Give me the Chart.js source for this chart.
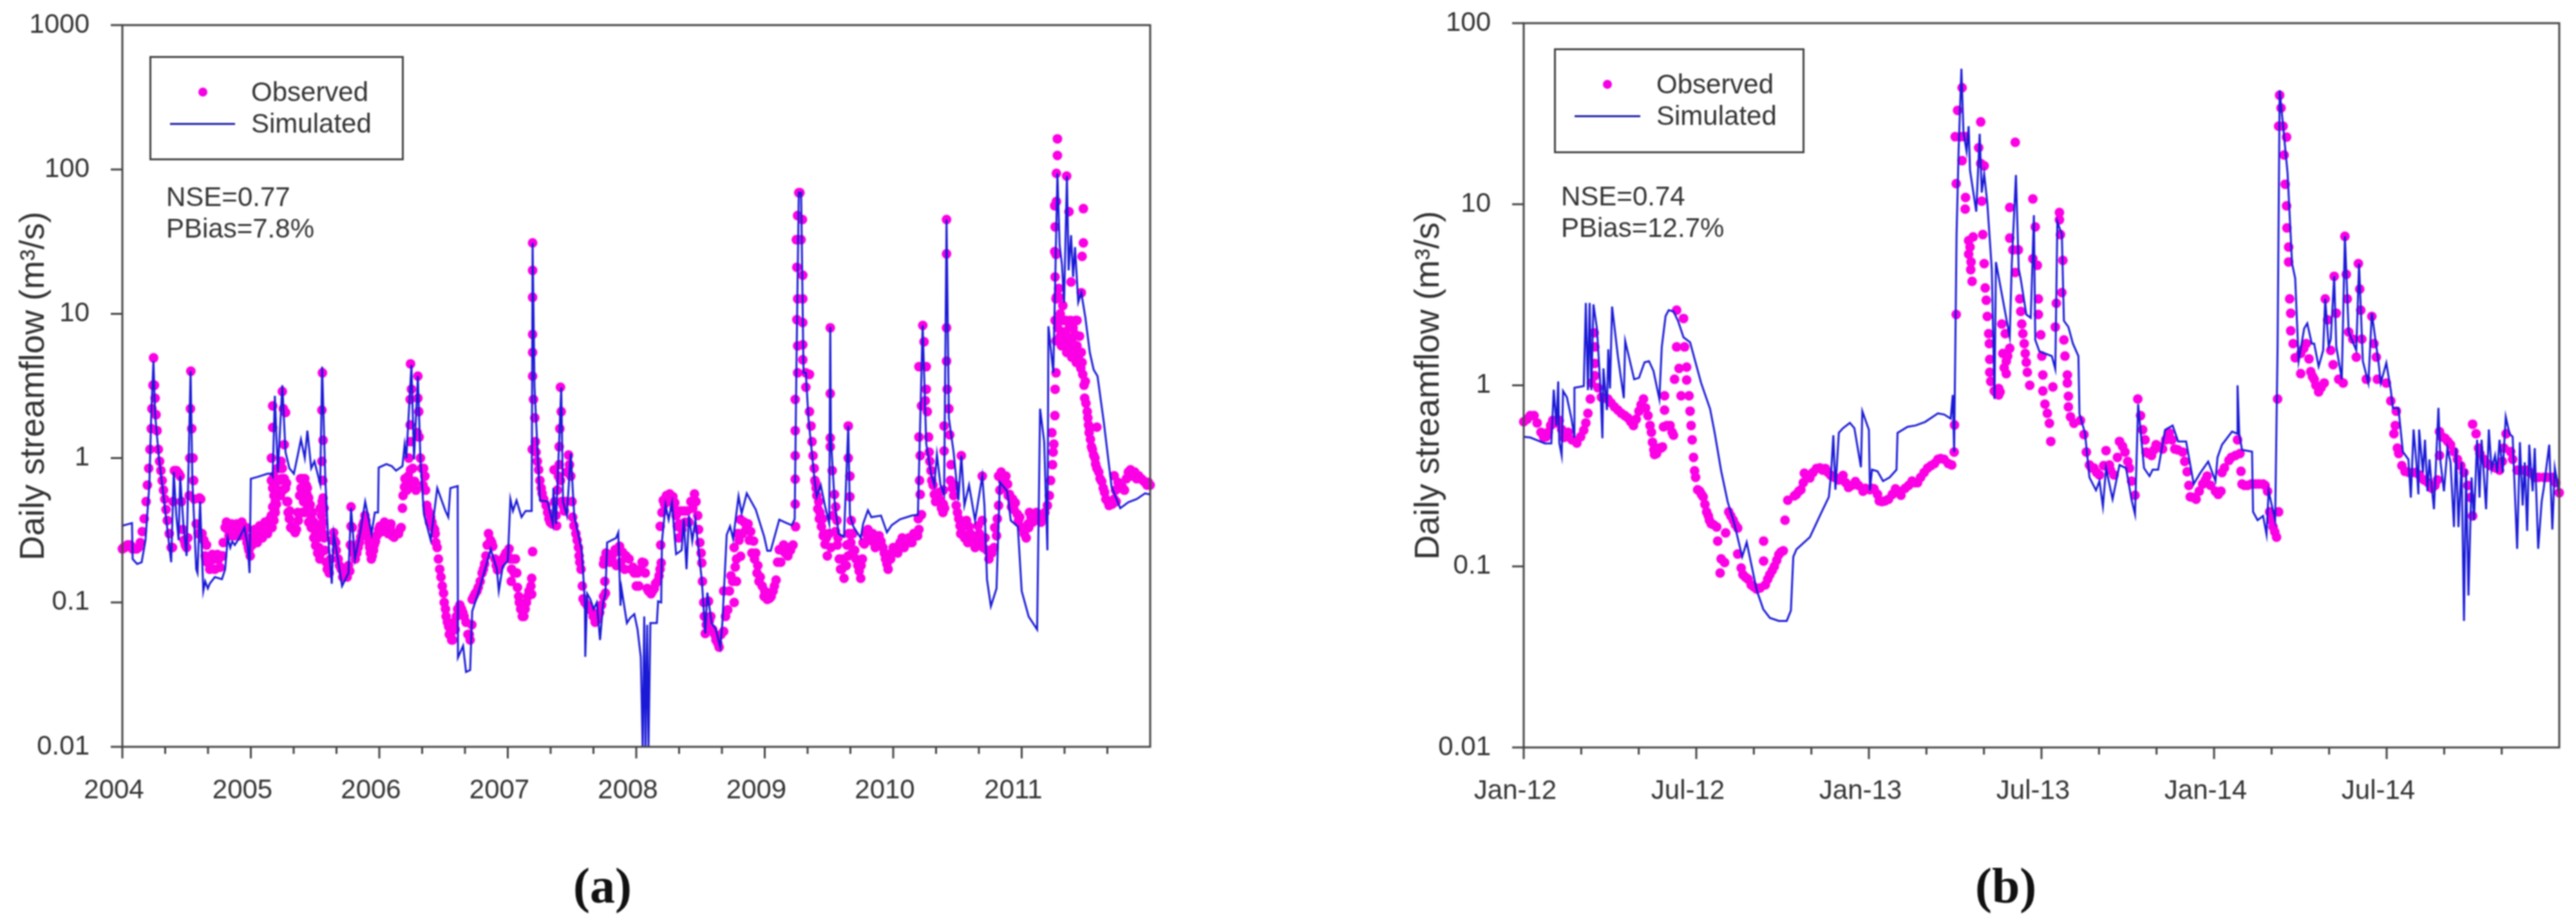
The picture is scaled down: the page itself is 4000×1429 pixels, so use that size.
<!DOCTYPE html>
<html>
<head>
<meta charset="utf-8">
<title>Daily streamflow</title>
<script src="https://cdn.jsdelivr.net/npm/chart.js@4/dist/chart.umd.min.js"></script>
<style>
  html, body { margin: 0; padding: 0; background: #fff; }
  body { position: relative; width: 4000px; height: 1429px; overflow: hidden; font-family: "Liberation Sans", Arial, sans-serif; color: #333; filter: blur(0.8px); }
  canvas { position: absolute; top: 0; }
  .box { position: absolute; border: 3px solid #444; box-sizing: border-box; }
  .txt { position: absolute; font-size: 42px; line-height: 50px; white-space: nowrap; }
  .dot { position: absolute; width: 14px; height: 14px; border-radius: 50%; background: #f400e4; }
  .dash { position: absolute; height: 3px; background: #1c1ca8; }
  .tag { position: absolute; font-family: "Liberation Serif", serif; font-size: 78px; line-height: 90px; color: #111; }
  .tag b { font-weight: bold; }
</style>
</head>
<body>
<canvas id="chartA" width="2000" height="1429" style="left:0"></canvas>
<canvas id="chartB" width="2000" height="1429" style="left:2000px"></canvas>
<script>
// [years since start of axis, streamflow m3/s]
const simA2004 = [[0,.34],[.05,.35],[.075,.355],[.08,.2],[.115,.185],[.15,.19],[.18,.27],[.21,.65],[.225,2],[.242,4.7],[.255,2],[.285,1],[.32,.55],[.38,.19],[.40,.8],[.42,.4],[.438,.27],[.45,.75],[.475,.35],[.50,.21],[.531,4],[.545,.7],[.575,.17],[.585,.16],[.605,.5],[.63,.12],[.645,.14],[.665,.125],[.68,.135],[.72,.15],[.775,.145],[.80,.17],[.82,.28],[.84,.24],[.855,.265],[.875,.25],[.91,.28],[.95,.33],[.975,.25],[.99,.16]];
const simA2005 = [[1,.72],[1.05,.74],[1.09,.76],[1.13,.78],[1.16,.78],[1.17,.75],[1.187,2.7],[1.21,.8],[1.245,3.2],[1.27,1.1],[1.30,.85],[1.335,.78],[1.37,1.1],[1.39,1.35],[1.42,1],[1.44,1.55],[1.47,.85],[1.495,.95],[1.54,.66],[1.555,4.3],[1.58,.7],[1.6,.3],[1.63,.135],[1.645,.3],[1.66,.25],[1.71,.13],[1.76,.16],[1.78,.45],[1.81,.2],[1.85,.3],[1.89,.5],[1.94,.3],[1.965,.42],[1.99,.42]];
const simA2006 = [[1.995,.86],[2.055,.91],[2.097,.88],[2.13,.82],[2.18,.88],[2.197,1.24],[2.21,1],[2.25,4.4],[2.27,.98],[2.30,3.7],[2.32,.98],[2.347,.41],[2.40,.27],[2.451,.62],[2.515,.43],[2.537,.39],[2.553,.62],[2.61,.64],[2.612,.0415],[2.652,.05],[2.675,.033],[2.707,.034],[2.723,.087],[2.77,.116],[2.835,.185],[2.867,.234],[2.915,.17],[2.93,.12],[2.96,.177]];
const simA2007 = [[3,.194],[3.02,.52],[3.04,.43],[3.068,.51],[3.107,.39],[3.138,.43],[3.186,.43],[3.193,31],[3.208,3.1],[3.25,.51],[3.31,.5],[3.35,.35],[3.355,.62],[3.375,.35],[3.416,3.08],[3.43,.5],[3.46,.4],[3.49,1.08],[3.517,.4],[3.576,.23],[3.6,.1],[3.603,.042],[3.618,.115],[3.643,.105],[3.668,.09],[3.693,.1],[3.718,.055],[3.743,.1],[3.76,.115],[3.773,.26],[3.843,.28],[3.86,.305],[3.877,.095],[3.885,.125],[3.927,.072],[3.952,.078],[3.985,.083]];
const simA2008 = [[4.01,.065],[4.035,.042],[4.05,.0095],[4.062,.08],[4.072,.0095],[4.085,.07],[4.095,.0095],[4.11,.072],[4.16,.072],[4.17,.102],[4.194,.1],[4.2,.265],[4.228,.475],[4.252,.375],[4.278,.49],[4.31,.216],[4.353,.23],[4.37,.375],[4.391,.17],[4.41,.4],[4.436,.266],[4.46,.375],[4.51,.143],[4.537,.061],[4.553,.117],[4.587,.072],[4.62,.065],[4.654,.049],[4.67,.072],[4.704,.295],[4.73,.337],[4.754,.275],[4.796,.545],[4.82,.414],[4.86,.57],[4.93,.44],[4.996,.285]];
const simA2009 = [[5.02,.228],[5.046,.228],[5.113,.375],[5.155,.36],[5.21,.343],[5.233,.378],[5.246,3.9],[5.265,69],[5.283,69],[5.302,3.9],[5.32,3.9],[5.34,1.9],[5.385,.75],[5.404,.54],[5.436,.65],[5.469,.467],[5.502,.352],[5.51,8.1],[5.515,1.38],[5.543,.51],[5.575,.3],[5.617,.285],[5.65,1.67],[5.663,.405],[5.69,.335],[5.747,.28],[5.766,.352],[5.803,.435],[5.83,.39],[5.905,.4],[5.951,.306],[5.988,.343]];
const simA2010 = [[6.053,.377],[6.146,.4],[6.192,.405],[6.229,8.3],[6.257,1.26],[6.294,.78],[6.32,.65],[6.34,1.06],[6.368,.65],[6.396,.56],[6.415,45],[6.433,1.9],[6.47,1.1],[6.507,.51],[6.53,1.04],[6.554,.47],[6.59,.65],[6.637,.37],[6.693,.75],[6.71,.47],[6.73,.144],[6.76,.094],[6.804,.125],[6.83,.68],[6.887,.59],[6.915,.37],[6.97,.335]];
const simA2011 = [[7,.12],[7.054,.08],[7.12,.065],[7.143,2.2],[7.175,1.3],[7.2,.23],[7.208,8.2],[7.246,3.9],[7.278,94],[7.295,30],[7.313,22],[7.33,12],[7.352,90],[7.365,20],[7.384,35],[7.40,18],[7.415,29],[7.44,12],[7.464,14],[7.495,9.5],[7.53,5.4],[7.56,4.1],[7.59,3.7],[7.64,1.75],[7.70,.63],[7.767,.45],[7.83,.495],[7.895,.52],[7.96,.57],[8,.56]];
const simA = [...simA2004, ...simA2005, ...simA2006, ...simA2007, ...simA2008, ...simA2009, ...simA2010, ...simA2011];

const obsA2004 = [[0,.235],[.01,.24],[.02,.24],[.03,.245],[.04,.25],[.05,.25],[.06,.25],[.07,.245],[.08,.235],[.09,.235],[.10,.235],[.11,.235],[.125,.24],[.14,.26],[.155,.31],[.17,.38],[.185,.5],[.195,.65],[.205,.85],[.215,1.15],[.225,1.6],[.23,2.2],[.238,3.2],[.243,4.95],[.25,3.2],[.255,2.6],[.262,2],[.27,1.55],[.28,1.15],[.29,.95],[.30,.82],[.31,.7],[.32,.6],[.33,.52],[.34,.44],[.35,.37],[.365,.3],[.38,.24],[.39,.24],[.395,.5],[.405,.82],[.42,.82],[.43,.8],[.44,.78],[.45,.75],[.46,.5],[.47,.32],[.48,.27],[.49,.25],[.50,.24],[.51,.28],[.52,.55],[.525,1],[.53,2.2],[.533,4],[.54,1.6],[.55,1],[.555,.7],[.56,.52],[.575,.35],[.59,.3],[.60,.53],[.61,.52],[.62,.3],[.635,.27],[.645,.21],[.65,.2],[.655,.25],[.66,.19],[.67,.19],[.68,.17],[.69,.195],[.70,.215],[.71,.2],[.72,.17],[.73,.2],[.74,.215],[.75,.2],[.76,.175],[.77,.21],[.78,.21],[.785,.26],[.80,.33],[.81,.36],[.82,.32],[.83,.29],[.84,.34],[.85,.35],[.86,.3],[.87,.29],[.88,.34],[.89,.35],[.90,.31],[.91,.29],[.92,.34],[.93,.36],[.94,.3],[.95,.29],[.955,.32],[.965,.33],[.97,.26],[.98,.24],[.985,.23],[.995,.21]];
const obsA2005 = [[1,.28],[1.01,.25],[1.02,.28],[1.03,.32],[1.04,.29],[1.05,.26],[1.06,.3],[1.07,.34],[1.08,.3],[1.09,.28],[1.10,.32],[1.11,.36],[1.12,.36],[1.13,.3],[1.14,.33],[1.15,.38],[1.16,.4],[1.165,.33],[1.17,.46],[1.18,.37],[1.18,.55],[1.19,.42],[1.17,2.3],[1.17,1.63],[1.16,1],[1.16,.7],[1.17,.62],[1.18,.75],[1.186,.67],[1.19,.5],[1.195,.56],[1.186,.44],[1.2,.48],[1.21,.85],[1.22,.85],[1.235,.95],[1.24,.72],[1.245,2.9],[1.253,2.2],[1.27,2.07],[1.26,1.24],[1.245,.85],[1.25,.6],[1.26,.72],[1.27,.62],[1.22,.7],[1.21,.6],[1.23,.55],[1.278,.67],[1.28,.5],[1.287,.5],[1.29,.42],[1.30,.38],[1.303,.43],[1.31,.33],[1.32,.337],[1.33,.32],[1.345,.305],[1.355,.32],[1.365,.42],[1.37,.37],[1.38,.55],[1.387,.72],[1.39,.62],[1.40,.72],[1.40,.42],[1.41,.62],[1.42,.72],[1.43,.65],[1.437,.56],[1.44,.62],[1.40,.6],[1.41,.5],[1.42,.42],[1.44,.45],[1.45,.53],[1.46,.42],[1.462,.475],[1.45,.36],[1.47,.38],[1.47,.33],[1.48,.42],[1.487,.325],[1.49,.36],[1.49,.28],[1.5,.29],[1.504,.248],[1.51,.33],[1.52,.28],[1.52,.22],[1.53,.24],[1.537,.2],[1.545,.22],[1.54,.45],[1.55,.33],[1.55,.4],[1.555,.5],[1.56,.36],[1.56,.3],[1.57,.45],[1.575,.23],[1.562,.53],[1.557,3.9],[1.553,2.15],[1.562,1.33],[1.553,.95],[1.56,.7],[1.57,.28],[1.587,.19],[1.595,.17],[1.61,.16],[1.62,.2],[1.635,.27],[1.645,.305],[1.65,.27],[1.66,.26],[1.665,.23],[1.68,.2],[1.69,.18],[1.704,.17],[1.715,.15],[1.72,.16],[1.73,.17],[1.746,.16],[1.75,.15],[1.76,.18],[1.77,.165],[1.775,.25],[1.78,.46],[1.78,.337],[1.788,.24],[1.79,.33],[1.80,.22],[1.813,.2],[1.825,.22],[1.835,.24],[1.845,.26],[1.855,.284],[1.865,.31],[1.87,.34],[1.88,.36],[1.888,.4],[1.895,.37],[1.90,.33],[1.905,.3],[1.913,.284],[1.92,.26],[1.925,.24],[1.93,.22],[1.938,.2],[1.945,.21],[1.955,.23],[1.96,.25],[1.97,.265],[1.98,.29],[1.99,.3],[1.995,.32]];
const obsA2006 = [[2.005,.337],[2.02,.31],[2.03,.34],[2.04,.36],[2.055,.35],[2.07,.3],[2.085,.33],[2.09,.35],[2.10,.29],[2.115,.283],[2.13,.3],[2.14,.3],[2.15,.3],[2.163,.325],[2.17,.33],[2.18,.45],[2.185,.55],[2.196,.63],[2.2,.72],[2.21,.7],[2.215,.6],[2.225,.75],[2.23,1],[2.24,1.7],[2.243,4.5],[2.25,3],[2.24,2.55],[2.243,1.3],[2.243,.83],[2.26,.85],[2.265,.65],[2.275,.69],[2.285,.6],[2.295,1.5],[2.30,2.6],[2.30,3.7],[2.307,2.1],[2.31,1.4],[2.32,1],[2.33,.85],[2.34,.65],[2.345,.85],[2.355,.75],[2.36,.6],[2.37,.47],[2.375,.44],[2.385,.42],[2.39,.36],[2.40,.39],[2.41,.36],[2.42,.33],[2.43,.32],[2.435,.3],[2.44,.26],[2.45,.24],[2.46,.2],[2.47,.17],[2.48,.15],[2.49,.13],[2.5,.116],[2.505,.1],[2.515,.09],[2.52,.08],[2.53,.073],[2.54,.068],[2.545,.06],[2.555,.06],[2.563,.055],[2.57,.055],[2.58,.073],[2.59,.065],[2.6,.08],[2.61,.09],[2.627,.096],[2.64,.09],[2.65,.085],[2.66,.08],[2.675,.073],[2.69,.06],[2.70,.06],[2.707,.055],[2.72,.07],[2.723,.105],[2.735,.11],[2.745,.115],[2.76,.12],[2.77,.127],[2.785,.14],[2.80,.16],[2.81,.17],[2.82,.185],[2.83,.21],[2.84,.25],[2.85,.3],[2.865,.27],[2.875,.26],[2.883,.245],[2.90,.2],[2.91,.18],[2.92,.168],[2.94,.18],[2.96,.2],[2.975,.21],[2.985,.22],[2.995,.22]];
const obsA2007 = [[3.01,.235],[3.02,.2],[3.027,.14],[3.03,.17],[3.04,.2],[3.05,.16],[3.06,.2],[3.07,.16],[3.075,.127],[3.085,.11],[3.09,.1],[3.10,.09],[3.113,.08],[3.125,.08],[3.135,.09],[3.145,.1],[3.155,.11],[3.165,.12],[3.18,.13],[3.186,.147],[3.186,.114],[3.193,.225],[3.193,31],[3.193,20],[3.193,13],[3.193,7.2],[3.193,5.4],[3.193,3.7],[3.2,2.55],[3.21,1.9],[3.19,1.15],[3.215,1.3],[3.22,1.1],[3.23,.95],[3.24,.83],[3.25,.7],[3.26,.62],[3.267,.57],[3.28,.52],[3.298,.47],[3.31,.42],[3.32,.38],[3.33,.36],[3.345,.35],[3.38,.34],[3.36,.83],[3.365,.5],[3.375,.4],[3.385,.6],[3.41,3.1],[3.416,2.1],[3.40,1.2],[3.40,.9],[3.405,1.6],[3.41,.7],[3.394,.75],[3.42,.5],[3.43,.47],[3.44,.43],[3.45,.5],[3.46,.8],[3.473,1.05],[3.48,.9],[3.49,.75],[3.50,.5],[3.505,.39],[3.515,.34],[3.53,.3],[3.54,.27],[3.55,.24],[3.555,.21],[3.56,.19],[3.57,.17],[3.58,.13],[3.586,.106],[3.60,.1],[3.62,.095],[3.635,.09],[3.65,.088],[3.665,.08],[3.68,.073],[3.69,.075],[3.70,.08],[3.715,.085],[3.73,.096],[3.745,.11],[3.755,.14],[3.76,.116],[3.765,.22],[3.751,.2],[3.745,.185],[3.78,.2],[3.793,.19],[3.81,.2],[3.825,.22],[3.835,.232],[3.845,.18],[3.86,.23],[3.87,.245],[3.88,.19],[3.893,.223],[3.91,.17],[3.92,.21],[3.944,.2],[3.96,.17],[3.975,.175],[3.985,.16],[4.0,.13]];
const obsA2008 = [[4.01,.16],[4.02,.13],[4.035,.17],[4.045,.19],[4.06,.188],[4.07,.16],[4.085,.125],[4.095,.12],[4.105,.12],[4.115,.115],[4.127,.12],[4.14,.125],[4.15,.135],[4.165,.14],[4.177,.153],[4.185,.17],[4.19,.25],[4.194,.188],[4.186,.337],[4.2,.42],[4.21,.51],[4.22,.48],[4.235,.55],[4.245,.5],[4.26,.565],[4.27,.52],[4.285,.54],[4.295,.45],[4.30,.49],[4.31,.4],[4.32,.337],[4.33,.28],[4.335,.35],[4.345,.43],[4.355,.32],[4.37,.43],[4.38,.36],[4.395,.43],[4.41,.36],[4.425,.5],[4.44,.45],[4.453,.565],[4.465,.5],[4.478,.4],[4.485,.32],[4.495,.26],[4.505,.22],[4.51,.188],[4.515,.14],[4.525,.1],[4.53,.08],[4.537,.061],[4.545,.07],[4.562,.102],[4.57,.075],[4.58,.08],[4.595,.065],[4.61,.06],[4.62,.055],[4.635,.052],[4.645,.049],[4.66,.06],[4.68,.063],[4.68,.12],[4.695,.08],[4.712,.089],[4.725,.12],[4.737,.153],[4.75,.14],[4.762,.1],[4.77,.176],[4.78,.14],[4.78,.2],[4.79,.3],[4.80,.27],[4.812,.209],[4.762,.24],[4.812,.375],[4.825,.3],[4.84,.36],[4.855,.32],[4.87,.35],[4.88,.27],[4.89,.31],[4.90,.22],[4.913,.266],[4.92,.2],[4.93,.22],[4.94,.16],[4.946,.18],[4.955,.14],[4.965,.15],[4.98,.13],[4.995,.11]];
const obsA2009 = [[5,.12],[5.01,.115],[5.02,.105],[5.038,.107],[5.05,.11],[5.065,.12],[5.075,.13],[5.088,.143],[5.10,.19],[5.113,.232],[5.125,.19],[5.135,.23],[5.147,.25],[5.16,.22],[5.18,.21],[5.19,.24],[5.20,.23],[5.22,.25],[5.24,.335],[5.237,.48],[5.237,.715],[5.237,1.04],[5.237,1.55],[5.237,2.55],[5.256,3.9],[5.256,6],[5.25,9.1],[5.256,12.7],[5.25,21],[5.246,32.6],[5.256,47.9],[5.274,69],[5.265,69],[5.293,45],[5.283,32.6],[5.296,18.5],[5.296,12.7],[5.296,8.7],[5.296,6.1],[5.296,4.8],[5.32,3.9],[5.348,3.8],[5.32,3.1],[5.348,2.1],[5.36,1.67],[5.368,1.3],[5.376,1.04],[5.385,.85],[5.39,.7],[5.395,.68],[5.40,.62],[5.405,.55],[5.413,.445],[5.42,.5],[5.425,.38],[5.43,.42],[5.441,.336],[5.45,.38],[5.455,.29],[5.46,.3],[5.469,.253],[5.48,.28],[5.487,.21],[5.50,.3],[5.515,.24],[5.51,8],[5.51,2.8],[5.51,1.38],[5.51,1.2],[5.525,.82],[5.53,.4],[5.543,.56],[5.55,.31],[5.552,.46],[5.562,.37],[5.565,.25],[5.57,.28],[5.58,.2],[5.59,.17],[5.60,.17],[5.61,.2],[5.617,.147],[5.625,.18],[5.635,.18],[5.64,.25],[5.65,.21],[5.65,1.67],[5.65,1],[5.655,.3],[5.663,.75],[5.663,.54],[5.67,.26],[5.673,.37],[5.68,.22],[5.685,.3],[5.70,.23],[5.71,.2],[5.725,.18],[5.735,.165],[5.747,.147],[5.75,.18],[5.76,.2],[5.765,.26],[5.775,.254],[5.79,.3],[5.803,.32],[5.815,.27],[5.83,.29],[5.84,.3],[5.85,.26],[5.86,.24],[5.875,.27],[5.89,.29],[5.905,.265],[5.92,.24],[5.93,.22],[5.94,.2],[5.951,.185],[5.96,.17],[5.97,.2],[5.98,.2],[5.988,.22]];
const obsA2010 = [[6,.24],[6.02,.24],[6.035,.22],[6.053,.26],[6.07,.28],[6.085,.24],[6.10,.26],[6.12,.28],[6.135,.26],[6.146,.26],[6.16,.3],[6.175,.29],[6.19,.29],[6.195,.38],[6.2,.32],[6.22,.405],[6.205,.7],[6.21,.56],[6.21,1.04],[6.2,1.4],[6.22,2.3],[6.2,4.3],[6.23,8.3],[6.24,6.4],[6.257,4.3],[6.257,3],[6.25,2.5],[6.265,2.1],[6.275,1.4],[6.28,1.1],[6.285,.95],[6.294,.82],[6.30,.7],[6.31,.65],[6.32,.56],[6.33,.5],[6.345,.53],[6.36,.58],[6.368,.51],[6.375,.45],[6.387,.42],[6.39,.48],[6.39,.6],[6.40,.45],[6.396,1.67],[6.396,1.12],[6.415,8],[6.415,26],[6.415,45],[6.415,4.7],[6.42,3],[6.433,2.2],[6.44,1.45],[6.45,.9],[6.445,.7],[6.46,.62],[6.47,.55],[6.48,.65],[6.49,.47],[6.5,.42],[6.51,.38],[6.52,.34],[6.525,.3],[6.535,.3],[6.53,1.04],[6.545,.34],[6.555,.28],[6.57,.37],[6.58,.26],[6.59,.335],[6.60,.3],[6.615,.28],[6.625,.26],[6.637,.24],[6.65,.25],[6.66,.34],[6.67,.3],[6.68,.28],[6.69,.26],[6.693,.75],[6.693,.37],[6.70,.24],[6.715,.28],[6.73,.23],[6.745,.2],[6.755,.23],[6.767,.22],[6.785,.24],[6.79,.33],[6.804,.29],[6.81,.38],[6.82,.47],[6.82,.75],[6.83,.6],[6.84,.8],[6.85,.7],[6.86,.62],[6.877,.75],[6.89,.66],[6.895,.55],[6.905,.56],[6.92,.46],[6.93,.52],[6.94,.44],[6.95,.49],[6.965,.41],[6.975,.37],[6.985,.39]];
const obsA2011 = [[7,.33],[7.02,.3],[7.035,.28],[7.05,.35],[7.055,.33],[7.06,.42],[7.073,.39],[7.085,.36],[7.10,.39],[7.115,.42],[7.13,.39],[7.15,.36],[7.165,.39],[7.18,.42],[7.2,.47],[7.215,.55],[7.225,.7],[7.235,1.5],[7.24,.9],[7.245,1.1],[7.25,1.25],[7.258,1.97],[7.26,3],[7.267,3.9],[7.267,6.5],[7.26,9],[7.267,12.7],[7.26,18],[7.267,25.8],[7.278,163],[7.278,125],[7.27,94],[7.257,56],[7.27,60],[7.26,40],[7.257,27],[7.27,13],[7.288,15],[7.29,13],[7.30,10],[7.31,9],[7.28,8],[7.32,11.4],[7.32,7.5],[7.29,9],[7.30,7],[7.31,6],[7.32,6.5],[7.33,9],[7.33,7],[7.34,6.3],[7.345,9],[7.35,5.4],[7.35,7],[7.36,6],[7.368,51],[7.35,90],[7.384,16.6],[7.37,8],[7.375,5.8],[7.38,9],[7.39,6.5],[7.39,5],[7.40,8],[7.41,5.5],[7.415,7.2],[7.40,5.5],[7.42,9],[7.425,4.6],[7.43,6],[7.44,5],[7.447,5.4],[7.45,7],[7.43,9],[7.46,4.2],[7.47,4.6],[7.475,3.8],[7.48,53.5],[7.48,31],[7.47,25],[7.464,14],[7.464,5.4],[7.485,3.2],[7.49,2.6],[7.495,3.4],[7.50,2.4],[7.51,2.1],[7.515,1.9],[7.52,1.7],[7.525,1.5],[7.53,1.6],[7.535,1.35],[7.543,1.2],[7.55,1.15],[7.56,1.05],[7.57,1],[7.575,.91],[7.585,1.64],[7.585,.85],[7.60,.8],[7.61,.72],[7.623,.69],[7.635,.62],[7.645,.58],[7.655,.52],[7.67,.5],[7.68,.47],[7.695,.49],[7.705,.48],[7.72,.52],[7.72,.755],[7.73,.6],[7.735,.5],[7.75,.68],[7.765,.62],[7.783,.63],[7.80,.6],[7.815,.72],[7.83,.8],[7.847,.83],[7.865,.75],[7.88,.8],[7.895,.72],[7.91,.755],[7.93,.72],[7.945,.7],[7.96,.68],[7.975,.65],[7.985,.68],[8,.65]];
const obsA = [...obsA2004, ...obsA2005, ...obsA2006, ...obsA2007, ...obsA2008, ...obsA2009, ...obsA2010, ...obsA2011];

const simB2012 = [[0,.52],[.019,.515],[.039,.497],[.061,.478],[.08,.478],[.087,.945],[.095,.6],[.10,1.05],[.103,.483],[.11,.41],[.114,.93],[.125,.86],[.138,.66],[.147,.515],[.147,.97],[.174,.99],[.18,2.85],[.186,.94],[.191,2.85],[.196,.94],[.202,2.8],[.212,2.07],[.222,1],[.228,.51],[.231,1.24],[.241,.73],[.245,1.58],[.25,.96],[.256,2.72],[.273,1.44],[.29,.85],[.294,1.76],[.32,1.08],[.334,1.1],[.35,1.34],[.363,1.36],[.376,1.2],[.393,.84],[.40,1.63],[.411,2.41],[.42,2.6],[.434,2.56],[.447,2.27],[.463,1.84],[.482,1.73],[.495,1.4],[.514,1.03],[.54,.74],[.553,.55],[.572,.337],[.591,.227],[.61,.173],[.633,.113],[.646,.136],[.675,.074],[.694,.058],[.713,.052],[.739,.05],[.762,.05],[.774,.057],[.781,.113],[.79,.124],[.829,.145],[.861,.196],[.884,.242],[.89,.318],[.897,.53],[.903,.265],[.913,.547],[.925,.58],[.945,.62],[.958,.58],[.977,.353],[.981,.72],[.993,.62]];
const simB2013 = [[1,.568],[1.003,.263],[1.009,.342],[1.025,.335],[1.041,.296],[1.06,.31],[1.08,.342],[1.083,.546],[1.112,.59],[1.135,.6],[1.163,.628],[1.2,.7],[1.218,.69],[1.237,.655],[1.243,.885],[1.247,.428],[1.254,6.8],[1.26,20],[1.268,56],[1.274,25],[1.283,19.6],[1.289,27],[1.293,15.4],[1.311,9.1],[1.321,24.5],[1.327,11.6],[1.334,14.7],[1.343,10.2],[1.356,4.4],[1.364,.84],[1.368,4.8],[1.408,1.85],[1.414,4.7],[1.426,14.5],[1.434,4.4],[1.44,3.85],[1.456,2.46],[1.469,2.36],[1.478,8.7],[1.482,1.78],[1.494,1.54],[1.53,1.45],[1.54,1.23],[1.546,8],[1.559,6.8],[1.565,2.27],[1.578,2.1],[1.591,1.7],[1.607,1.45],[1.61,.697],[1.626,.546],[1.639,.31],[1.658,.263],[1.668,.296],[1.678,.214],[1.687,.349],[1.706,.235],[1.726,.363],[1.745,.349],[1.761,.233],[1.771,.194],[1.78,.787],[1.797,.349],[1.813,.315],[1.822,.342],[1.838,.342],[1.858,.568],[1.88,.6],[1.896,.49],[1.919,.49],[1.941,.285],[1.96,.328],[1.983,.379]];
const simB2014 = [[2.004,.296],[2.01,.4],[2.023,.47],[2.052,.555],[2.068,.54],[2.068,1],[2.073,.54],[2.081,.44],[2.11,.43],[2.113,.2],[2.126,.18],[2.142,.19],[2.152,.15],[2.158,.26],[2.177,.18],[2.184,1.64],[2.19,42.6],[2.2,27],[2.213,14.8],[2.226,4.7],[2.235,3.9],[2.245,1.36],[2.261,2.06],[2.27,2.2],[2.283,1.7],[2.29,1.7],[2.303,1.27],[2.316,1.56],[2.322,3],[2.332,1.64],[2.338,1.8],[2.348,4],[2.354,1.64],[2.37,1.08],[2.379,6.65],[2.39,1.97],[2.412,1.56],[2.42,4.7],[2.431,1.36],[2.447,1.03],[2.457,2.5],[2.476,1.36],[2.483,1.03],[2.499,1.33],[2.512,.94],[2.518,.75],[2.534,.75],[2.547,.43],[2.563,.39],[2.57,.24],[2.578,.57],[2.586,.376],[2.592,.25],[2.594,.57],[2.605,.33],[2.611,.5],[2.618,.26],[2.624,.39],[2.631,.27],[2.637,.207],[2.643,.376],[2.65,.75],[2.656,.376],[2.666,.26],[2.676,.45],[2.685,.376],[2.695,.165],[2.701,.45],[2.708,.165],[2.717,.376],[2.724,.05],[2.73,.343],[2.737,.069],[2.746,.31],[2.753,.18],[2.762,.5],[2.769,.24],[2.775,.5],[2.788,.207],[2.796,.57],[2.804,.343],[2.814,.41],[2.82,.33],[2.827,.5],[2.836,.33],[2.845,.67],[2.856,.54],[2.865,.52],[2.878,.125],[2.886,.485],[2.894,.217],[2.9,.376],[2.907,.157],[2.913,.47],[2.923,.26],[2.929,.45],[2.939,.125],[2.949,.228],[2.955,.27],[2.971,.47],[2.98,.16],[2.987,.35],[3,.25]];
const simB = [...simB2012, ...simB2013, ...simB2014];

const obsB2012 = [[0,.63],[.01,.65],[.019,.68],[.03,.68],[.039,.62],[.05,.55],[.058,.515],[.065,.52],[.071,.55],[.078,.6],[.084,.64],[.093,.62],[.103,.64],[.11,.57],[.116,.515],[.122,.52],[.129,.55],[.14,.5],[.154,.48],[.165,.52],[.174,.565],[.18,.62],[.186,.7],[.193,.84],[.196,1.03],[.204,1.95],[.206,1.63],[.206,1.32],[.206,1.13],[.215,.97],[.225,.86],[.235,.85],[.244,.84],[.253,.8],[.263,.76],[.273,.73],[.283,.7],[.293,.68],[.302,.66],[.31,.63],[.318,.6],[.326,.65],[.334,.72],[.34,.78],[.347,.84],[.353,.75],[.36,.68],[.366,.6],[.37,.55],[.373,.485],[.377,.44],[.379,.415],[.385,.42],[.392,.45],[.398,.45],[.402,.457],[.408,.875],[.408,.73],[.405,.59],[.415,.6],[.424,.6],[.43,.55],[.434,.53],[.443,2.6],[.463,2.34],[.443,1.63],[.466,1.63],[.45,1.24],[.472,1.26],[.437,1.08],[.472,1.07],[.456,.875],[.479,.875],[.482,.72],[.485,.6],[.488,.5],[.492,.4],[.495,.337],[.498,.31],[.504,.265],[.51,.26],[.515,.25],[.52,.242],[.525,.22],[.53,.2],[.535,.19],[.538,.18],[.543,.172],[.55,.17],[.559,.165],[.562,.138],[.572,.11],[.582,.105],[.569,.092],[.585,.153],[.594,.2],[.60,.19],[.607,.18],[.613,.17],[.62,.163],[.62,.117],[.63,.098],[.635,.09],[.643,.087],[.65,.085],[.659,.079],[.667,.077],[.675,.075],[.685,.076],[.70,.079],[.707,.085],[.713,.09],[.72,.095],[.726,.1],[.733,.108],[.739,.116],[.745,.12],[.752,.122],[.695,.138],[.695,.107],[.757,.18],[.765,.232],[.784,.245],[.79,.25],[.797,.26],[.803,.265],[.81,.29],[.813,.327],[.82,.31],[.829,.308],[.838,.33],[.848,.347],[.858,.35],[.866,.34],[.874,.347],[.882,.33],[.89,.318],[.90,.31],[.913,.3],[.92,.31],[.925,.318],[.933,.29],[.941,.273],[.95,.28],[.961,.294],[.97,.28],[.983,.26],[.99,.27]];
const obsB2013 = [[1.003,.265],[1.008,.27],[1.015,.268],[1.025,.25],[1.03,.23],[1.038,.228],[1.047,.23],[1.057,.235],[1.068,.25],[1.077,.268],[1.085,.26],[1.093,.247],[1.105,.27],[1.115,.28],[1.125,.296],[1.133,.29],[1.141,.29],[1.15,.31],[1.16,.33],[1.17,.349],[1.18,.36],[1.19,.37],[1.2,.39],[1.208,.394],[1.218,.39],[1.23,.37],[1.24,.363],[1.247,.428],[1.248,.604],[1.253,2.46],[1.253,13],[1.25,23.6],[1.257,33],[1.27,44],[1.266,23.6],[1.279,23.6],[1.27,17.4],[1.279,9.4],[1.28,10.9],[1.324,28.5],[1.318,20.5],[1.324,16.8],[1.334,16.3],[1.327,10.4],[1.289,6.3],[1.302,6.6],[1.289,5.3],[1.293,5.8],[1.295,4.35],[1.296,4.8],[1.299,3.75],[1.33,6.8],[1.334,4.7],[1.337,3.45],[1.34,2.95],[1.343,2.4],[1.347,1.93],[1.349,1.7],[1.35,1.39],[1.35,1.18],[1.353,1.05],[1.363,.93],[1.37,.9],[1.376,.885],[1.38,.92],[1.376,.96],[1.392,1.25],[1.398,1.16],[1.398,1.36],[1.402,1.45],[1.388,1.5],[1.408,1.6],[1.385,2.18],[1.395,1.93],[1.408,9.6],[1.408,6.5],[1.424,22],[1.417,5.6],[1.433,5.6],[1.424,4.2],[1.437,3],[1.44,2.56],[1.443,2.18],[1.446,1.93],[1.45,1.7],[1.453,1.5],[1.456,1.34],[1.459,1.18],[1.466,1],[1.475,10.7],[1.482,7.5],[1.475,5],[1.488,4.6],[1.491,3],[1.491,2.46],[1.498,1.9],[1.501,1.45],[1.504,1.14],[1.504,.93],[1.51,.787],[1.517,.7],[1.523,.617],[1.527,.49],[1.533,.98],[1.54,2.1],[1.543,2.84],[1.552,9],[1.552,8.2],[1.555,6.8],[1.562,4.9],[1.559,3.25],[1.565,1.78],[1.568,1.45],[1.575,1.14],[1.575,1.03],[1.578,.87],[1.578,.76],[1.584,.67],[1.594,.617],[1.613,.64],[1.623,.535],[1.63,.428],[1.639,.363],[1.645,.35],[1.652,.349],[1.66,.33],[1.668,.32],[1.68,.36],[1.687,.436],[1.697,.363],[1.70,.34],[1.71,.32],[1.72,.4],[1.726,.49],[1.735,.46],[1.742,.428],[1.75,.38],[1.755,.349],[1.761,.296],[1.771,.247],[1.779,.84],[1.787,.68],[1.793,.568],[1.80,.5],[1.803,.428],[1.81,.42],[1.819,.41],[1.826,.44],[1.832,.47],[1.84,.46],[1.851,.445],[1.86,.5],[1.87,.546],[1.878,.5],[1.886,.445],[1.895,.44],[1.909,.428],[1.915,.38],[1.922,.333],[1.927,.28],[1.931,.242],[1.94,.24],[1.948,.235],[1.957,.26],[1.967,.285],[1.975,.3],[1.98,.315],[1.99,.28]];
const obsB2014 = [[2.004,.26],[2.012,.25],[2.02,.26],[2.023,.33],[2.03,.35],[2.043,.385],[2.05,.4],[2.062,.41],[2.075,.42],[2.068,.5],[2.078,.335],[2.081,.285],[2.088,.28],[2.097,.28],[2.108,.285],[2.12,.285],[2.13,.285],[2.142,.285],[2.148,.28],[2.155,.26],[2.161,.2],[2.165,.18],[2.171,.165],[2.176,.155],[2.181,.145],[2.187,.2],[2.184,.84],[2.187,27],[2.19,40],[2.194,34],[2.2,27],[2.21,23.5],[2.203,18.7],[2.206,12.9],[2.21,9.8],[2.211,7.4],[2.216,5.8],[2.216,4.8],[2.219,3],[2.222,2.5],[2.222,2],[2.229,1.7],[2.235,1.42],[2.251,1.16],[2.251,1.5],[2.26,1.6],[2.267,1.7],[2.275,1.4],[2.28,1.19],[2.285,1.12],[2.29,1.08],[2.295,1],[2.303,.92],[2.31,.97],[2.319,1.03],[2.322,3],[2.329,2.3],[2.338,1.56],[2.345,1.3],[2.348,4],[2.354,2.5],[2.361,1.08],[2.374,1.03],[2.379,6.65],[2.383,4.1],[2.386,3],[2.39,1.97],[2.402,1.8],[2.412,1.43],[2.418,4.7],[2.422,3.4],[2.425,2.6],[2.428,1.8],[2.441,1.08],[2.457,2.4],[2.463,1.7],[2.47,1.43],[2.473,1.08],[2.499,1.03],[2.512,.82],[2.525,.6],[2.528,.72],[2.521,.54],[2.531,.45],[2.535,.42],[2.544,.36],[2.553,.335],[2.565,.33],[2.582,.33],[2.595,.32],[2.608,.3],[2.62,.29],[2.631,.27],[2.64,.28],[2.647,.3],[2.653,.41],[2.653,.555],[2.66,.52],[2.669,.51],[2.677,.49],[2.685,.47],[2.695,.43],[2.705,.39],[2.715,.36],[2.724,.33],[2.735,.28],[2.743,.24],[2.749,.19],[2.749,.61],[2.759,.54],[2.766,.45],[2.77,.42],[2.782,.39],[2.79,.37],[2.801,.36],[2.815,.35],[2.827,.34],[2.835,.38],[2.84,.45],[2.846,.54],[2.859,.43],[2.865,.39],[2.878,.34],[2.89,.34],[2.904,.34],[2.915,.33],[2.929,.31],[2.94,.31],[2.955,.31],[2.965,.31],[2.981,.31],[2.99,.29],[3,.255]];
const obsB = [...obsB2012, ...obsB2013, ...obsB2014];

const yTicksA = [0.01, 0.1, 1, 10, 100, 1000];
const yTicksB = [0.01, 0.1, 1, 10, 100];
const xLabelsA = ["2004", "2005", "2006", "2007", "2008", "2009", "2010", "2011"];
const xTicksA = [0, 1, 2, 3, 4, 5, 6, 7];
const xMinorA = [1/3, 2/3, 4/3, 5/3, 7/3, 8/3, 10/3, 11/3, 13/3, 14/3, 16/3, 17/3, 19/3, 20/3, 22/3, 23/3];
const xLabelsB = ["Jan-12", "Jul-12", "Jan-13", "Jul-13", "Jan-14", "Jul-14"];
const xTicksB = [0, .5, 1, 1.5, 2, 2.5];
const xMinorB = [1/6, 2/6, 4/6, 5/6, 7/6, 8/6, 10/6, 11/6, 13/6, 14/6, 16/6, 17/6];

const axisColor = "#444";
const obsColor = "#fb00e4";
const simColor = "#1a1ad6";
const font = "Liberation Sans";

// frame and outward ticks, sigmaplot style
const frameTicks = {
  id: "frameTicks",
  afterDraw(chart, args, opts) {
    const { ctx, chartArea: a, scales } = chart;
    ctx.save();
    ctx.strokeStyle = axisColor;
    ctx.lineWidth = 3;
    ctx.strokeRect(a.left, a.top, a.right - a.left, a.bottom - a.top);
    ctx.beginPath();
    opts.major.forEach(v => {
      const x = scales.x.getPixelForValue(v);
      ctx.moveTo(x, a.bottom);
      ctx.lineTo(x, a.bottom + 18);
    });
    opts.minor.forEach(v => {
      const x = scales.x.getPixelForValue(v);
      ctx.moveTo(x, a.bottom);
      ctx.lineTo(x, a.bottom + 11);
    });
    opts.yTicks.forEach(v => {
      const y = scales.y.getPixelForValue(v);
      ctx.moveTo(a.left, y);
      ctx.lineTo(a.left - 18, y);
    });
    ctx.stroke();
    ctx.restore();
  }
};

function drawPanel(id, p) {
  const ctx = document.getElementById(id).getContext("2d");
  const chart = new Chart(ctx, {
    type: "scatter",
    data: {
      datasets: [
        {
          label: "Simulated",
          data: p.sim.map(d => ({ x: d[0], y: d[1] })),
          showLine: true,
          borderColor: simColor,
          borderWidth: 3,
          pointRadius: 0,
          tension: 0,
          clip: 0,
          order: 1
        },
        {
          label: "Observed",
          data: p.obs.map(d => ({ x: d[0], y: d[1] })),
          showLine: false,
          backgroundColor: obsColor,
          borderWidth: 0,
          pointRadius: 7.5,
          pointStyle: "circle",
          clip: false,
          order: 2
        }
      ]
    },
    options: {
      responsive: false,
      animation: false,
      devicePixelRatio: 1,
      layout: { padding: { left: p.padLeft, right: 2000 - p.right, top: p.top, bottom: 0 } },
      plugins: {
        legend: { display: false },
        title: { display: false },
        tooltip: { enabled: false },
        frameTicks: { major: p.xTicks, minor: p.xMinor, yTicks: p.yTicks }
      },
      scales: {
        x: {
          type: "linear",
          min: 0,
          max: p.xMax,
          grid: { display: false },
          border: { display: false },
          afterFit: s => { s.height = 1429 - p.bottom; },
          afterBuildTicks: s => { s.ticks = p.xTicks.map(v => ({ value: v })); },
          ticks: {
            autoSkip: false,
            maxRotation: 0,
            padding: 35,
            labelOffset: -13,
            color: "#333",
            font: { family: font, size: 42 },
            callback: v => p.xLabels[p.xTicks.indexOf(v)]
          }
        },
        y: {
          type: "logarithmic",
          min: 0.01,
          max: p.yMax,
          grid: { display: false },
          border: { display: false },
          afterFit: s => { s.width = p.left - p.padLeft; s.paddingTop = 0; s.paddingBottom = 0; },
          afterBuildTicks: s => { s.ticks = p.yTicks.map(v => ({ value: v })); },
          title: {
            display: true,
            text: "Daily streamflow (m³/s)",
            color: "#333",
            font: { family: font, size: 53 },
            padding: { top: 0, bottom: 0 }
          },
          ticks: {
            autoSkip: false,
            padding: 43,
            color: "#333",
            font: { family: font, size: 42 },
            callback: v => String(v)
          }
        }
      }
    },
    plugins: [frameTicks]
  });
  // the layout can still inset the top edge, pull it back to the wanted line
  for (let i = 0; i < 3 && Math.abs(chart.chartArea.top - p.top) > 0.5; i++) {
    chart.options.layout.padding.top -= chart.chartArea.top - p.top;
    chart.update();
  }
}

drawPanel("chartA", {
  sim: simA, obs: obsA, xMax: 8, yMax: 1000,
  padLeft: 22, left: 190, right: 1786, top: 39, bottom: 1160,
  xTicks: xTicksA, xMinor: xMinorA, xLabels: xLabelsA, yTicks: yTicksA
});
drawPanel("chartB", {
  sim: simB, obs: obsB, xMax: 3, yMax: 100,
  padLeft: 188, left: 366, right: 1974, top: 36, bottom: 1161,
  xTicks: xTicksB, xMinor: xMinorB, xLabels: xLabelsB, yTicks: yTicksB
});

// legend boxes and fit notes
function addNote(l) {
  document.body.insertAdjacentHTML("beforeend", `
    <div class="box" style="left:${l.boxX}px;top:${l.boxY}px;width:${l.boxW}px;height:${l.boxH}px"></div>
    <div class="dot" style="left:${l.markX - 7}px;top:${l.rowY1 - 7}px"></div>
    <div class="dash" style="left:${l.lineX}px;top:${l.rowY2 - 1}px;width:${l.lineW}px"></div>
    <div class="txt" style="left:${l.textX}px;top:${l.rowY1 - 25}px">Observed</div>
    <div class="txt" style="left:${l.textX}px;top:${l.rowY2 - 25}px">Simulated</div>
    <div class="txt" style="left:${l.noteX}px;top:${l.noteY - 25}px">${l.nse}</div>
    <div class="txt" style="left:${l.noteX}px;top:${l.noteY + 24}px">${l.pbias}</div>
    <div class="tag" style="left:${l.tagX}px;top:1331px"><b>${l.tag}</b></div>
  `);
}
addNote({ boxX: 232, boxY: 87, boxW: 395, boxH: 162, markX: 315, rowY1: 143, rowY2: 192, lineX: 264, lineW: 101, textX: 390, noteX: 258, noteY: 306, nse: "NSE=0.77", pbias: "PBias=7.8%", tagX: 890, tag: "(a)" });
addNote({ boxX: 2413, boxY: 75, boxW: 389, boxH: 163, markX: 2496, rowY1: 131, rowY2: 180, lineX: 2445, lineW: 102, textX: 2572, noteX: 2424, noteY: 305, nse: "NSE=0.74", pbias: "PBias=12.7%", tagX: 3067, tag: "(b)" });
</script>
</body>
</html>
